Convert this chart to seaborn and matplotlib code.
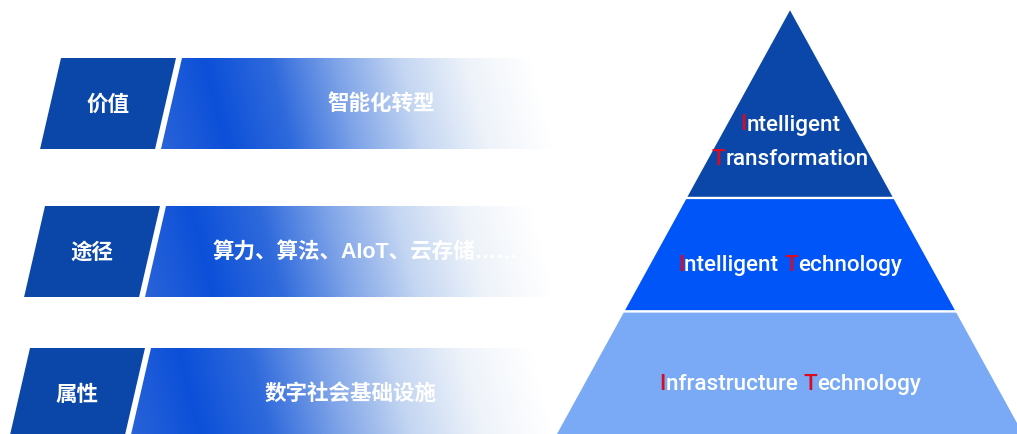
import numpy as np
import matplotlib
matplotlib.use("Agg")
import matplotlib.pyplot as plt
from matplotlib.patches import Polygon
import seaborn as sns

# ---- content ----
row_labels = ["价值", "途径", "属性"]
row_texts = ["智能化转型", "算力、算法、AIoT、云存储……", "数字社会基础设施"]
pyramid_lines = [["Intelligent", "Transformation"],
                 ["Intelligent Technology"],
                 ["Infrastructure Technology"]]
layer_colors = ["#0A47A8", "#0055F8", "#7AAAF5"]

# ---- styling ----
sns.set_theme(style="white")
plt.rcParams["font.family"] = ["Noto Sans CJK SC", "DejaVu Sans"]

DARK = "#0A47A8"
RED = "#DC0A1E"
W, H = 1017, 435

fig = plt.figure(figsize=(W / 100, H / 100), dpi=100)
ax = fig.add_axes([0, 0, 1, 1])
ax.set_xlim(0, W)
ax.set_ylim(H, 0)
ax.axis("off")

# gradient colour map for the description bands
band_cmap = sns.blend_palette(
    ["#2A63D8", "#0C50D9", "#2F6ADC", "#7FA4E8", "#C4D6F2", "#EEF3FA", "#FFFFFF"],
    n_colors=256, as_cmap=True)

# ---- left side: label tabs + fading bands ----
row_top = [59, 207, 349]
row_left = [61, 45, 30]
row_h = 91
slant = 0.23
tab_w = 115
gap = 6
band_end = 575

# Latin glyphs (incl. the baseline ellipsis) from Liberation Sans, CJK from Noto
mixed_family = ["Liberation Sans", "Noto Sans CJK SC"]

for i, (lab, txt) in enumerate(zip(row_labels, row_texts)):
    yt, yb = row_top[i], row_top[i] + row_h
    xl = row_left[i]
    dx = slant * row_h
    tab = [(xl, yt), (xl + tab_w, yt), (xl + tab_w - dx, yb), (xl - dx, yb)]
    ax.add_patch(Polygon(tab, closed=True, facecolor=DARK, edgecolor="none", zorder=2))

    gx0 = xl + tab_w + gap
    band = Polygon([(gx0, yt), (band_end, yt), (band_end, yb), (gx0 - dx, yb)],
                   closed=True, facecolor="none", edgecolor="none")
    ax.add_patch(band)
    xs = np.arange(gx0 - dx - 2, band_end + 1, 1.0)
    ys = np.arange(yt, yb + 1, 1.0)
    XX, YY = np.meshgrid(xs, ys)
    s = ((XX - (gx0 - dx)) + 0.25 * (yb - YY)) / (band_end - 20 - (gx0 - dx))
    s = np.clip(s, 0, 1)
    img = ax.imshow(band_cmap(s), extent=(xs[0], xs[-1], yb, yt), origin="upper",
                    interpolation="bilinear", zorder=1, aspect="auto")
    img.set_clip_path(band)

    yc = yt + row_h / 2
    cx_tab = xl + tab_w / 2 - dx / 2
    ax.text(cx_tab, yc, lab, color="white", fontsize=15.5, fontweight="bold",
            ha="center", va="center", zorder=3)
    cx_txt = xl - dx / 2 + 331
    ax.text(cx_txt, yc, txt, color="white", fontsize=15.5, fontweight="bold",
            family=mixed_family, ha="center", va="center", zorder=3)

# ---- right side: three-layer pyramid ----
apex_x, apex_y = 790, 9
k = 0.55
bounds = [apex_y, 199, 312.5, 445]


def half(y):
    return k * (y - apex_y)


for j in range(3):
    y0, y1 = bounds[j], bounds[j + 1]
    pts = [(apex_x - half(y0), y0), (apex_x + half(y0), y0),
           (apex_x + half(y1), y1), (apex_x - half(y1), y1)]
    ax.add_patch(Polygon(pts, closed=True, facecolor=layer_colors[j],
                         edgecolor="white", linewidth=1.6, zorder=2))

line_y = [[125, 160], [266], [385]]


def initial_caps_line(x, y, words, size=16.2):
    pieces = []
    for n, w in enumerate(words):
        tail = w[1:] + (" " if n < len(words) - 1 else "")
        pieces.append((w[0], RED))
        pieces.append((tail, "white"))
    kw = dict(fontsize=size, family=["Roboto", "DejaVu Sans"], fontweight="medium", zorder=4)
    first = ax.text(x, y, pieces[0][0], color=pieces[0][1], ha="left", va="center", **kw)
    prev = first
    arts = [first]
    for t, c in pieces[1:]:
        prev = ax.annotate(t, xy=(1, 0), xycoords=prev, xytext=(0, 0),
                           textcoords="offset points", ha="left", va="bottom",
                           color=c, **kw)
        arts.append(prev)
    return first, arts


rich = []
for j, lines in enumerate(pyramid_lines):
    for m, line in enumerate(lines):
        rich.append((apex_x, initial_caps_line(apex_x, line_y[j][m], line.split(" "))))

fig.canvas.draw()
r = fig.canvas.get_renderer()
for cx, (first, arts) in rich:
    b0 = first.get_window_extent(r)
    b1 = arts[-1].get_window_extent(r)
    first.set_x(cx - (b1.x1 - b0.x0) / 2)

fig.savefig("out.png", dpi=100, facecolor="white")
